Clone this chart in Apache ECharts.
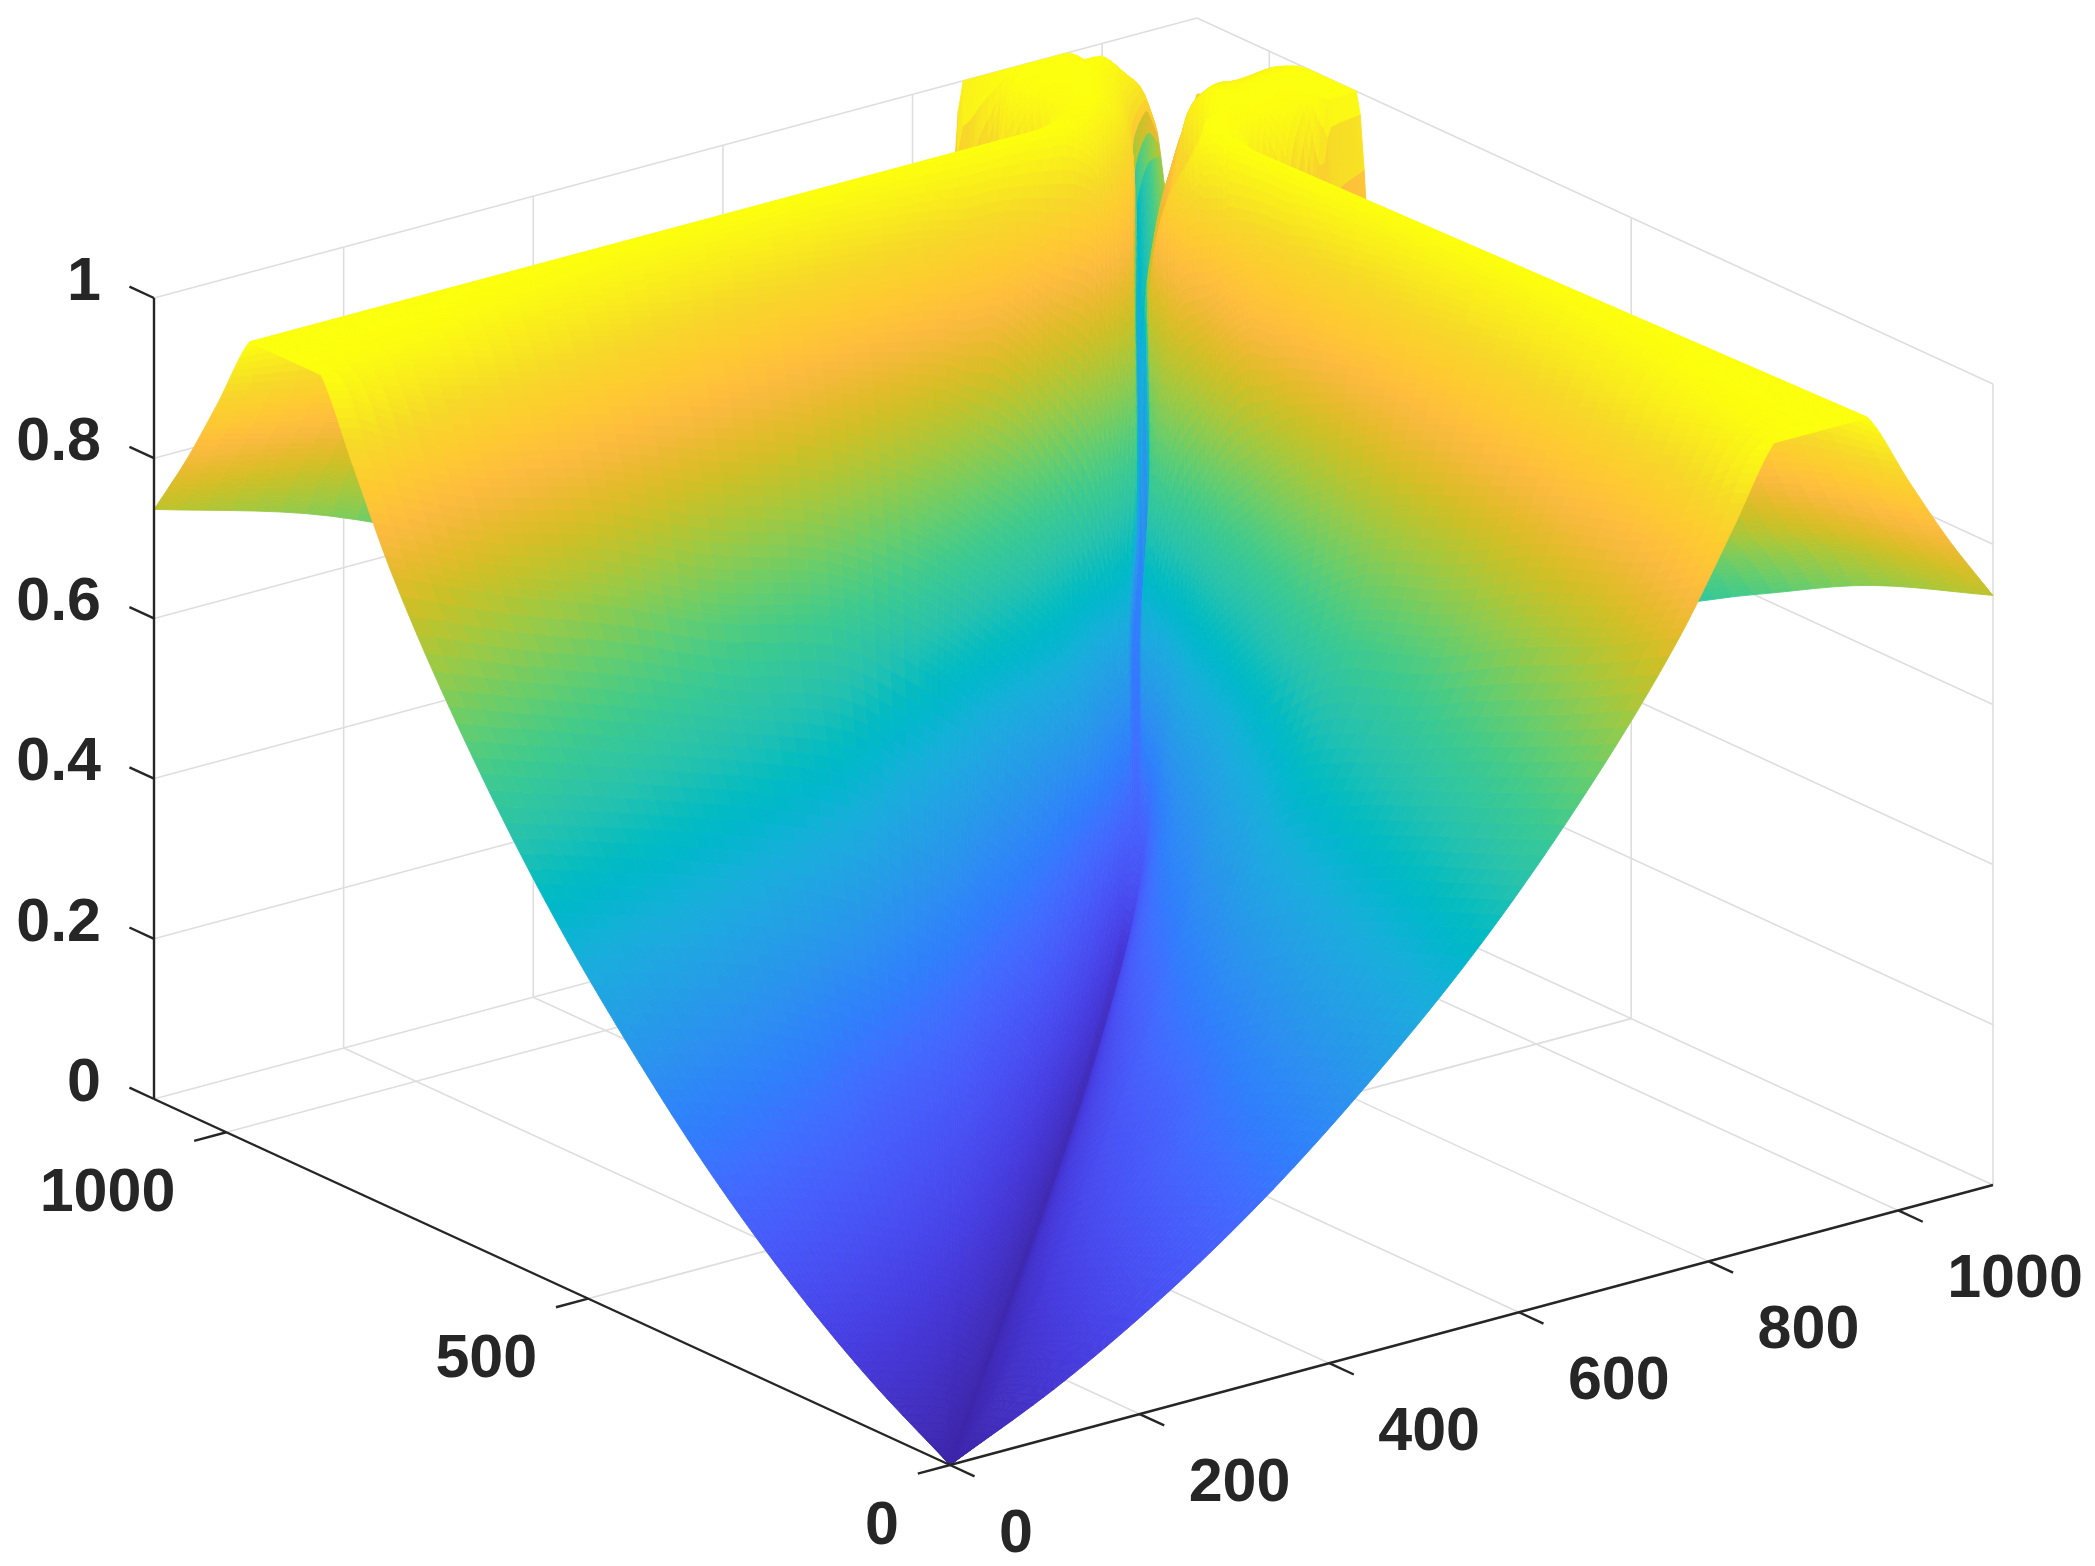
<!DOCTYPE html>
<html>
<head>
<meta charset="utf-8">
<style>html,body{margin:0;padding:0;background:#fff}#c{width:2095px;height:1566px;filter:blur(0.7px)}</style>
<script src="https://cdn.jsdelivr.net/npm/echarts@6/dist/echarts.min.js"></script>
</head>
<body>
<div id="c"></div>
<script>
// ---------- axis ticks ----------
const xTicks = [0, 200, 400, 600, 800, 1000];
const yTicks = [0, 500, 1000];
const zTicks = [0, 0.2, 0.4, 0.6, 0.8, 1];
const zTickLabels = ['0', '0.2', '0.4', '0.6', '0.8', '1'];
const axisLimit = 1100;

// ---------- surface values ----------
// Row position: the larger of the two horizontal coordinates.
const rowNodes = [0, 110, 220, 330, 440, 550, 660, 770, 825, 869, 902, 935, 968, 1012, 1056, 1078, 1100];
// Where each row meets the valley, for the side y > x and for the side x > y.
const seamXLeft  = [0, 110, 220, 330, 440, 550, 660, 770, 825, 860, 885, 918, 941, 975, 1008, 1037, 1067];
const seamYLeft  = rowNodes;
const seamXRight = [0, 110, 220, 330, 440, 550, 660, 770, 825, 860, 885, 918, 941, 975, 1008, 1067, 1100];
const seamYRight = [0, 110, 220, 330, 440, 550, 660, 770, 825, 869, 902, 935, 968, 1012, 1056, 1100, 1100];
// Colour seen along the bottom of the valley, row by row.
const seamColour = [0, .002, .005, .008, .012, .018, .03, .06, .17, .22, .25, .28, .34, .40, .47, .58, .70];
const seamColourRight = [0, .002, .005, .008, .012, .018, .03, .06, .17, .22, .25, .28, .34, .40, .47, .70, .9];
// Column position: share of the way from the outer edge to the valley.
const colNodes = [0, .15, .3, .45, .6, .72, .77, .8, .82, .86, .9, .94, .97, .99, 1];

const zShared = [
  [0, 0, 0, 0, 0, 0, 0, 0, 0, 0, 0, 0, 0, 0, 0],
  [.06, .055, .05, .045, .038, .03, .027, .025, .023, .02, .016, .012, .008, .004, .002],
  [.135, .125, .115, .10, .085, .07, .063, .058, .054, .046, .038, .028, .018, .01, .005],
  [.226, .21, .19, .17, .145, .12, .108, .10, .094, .08, .065, .048, .03, .016, .008],
  [.335, .31, .285, .25, .20, .17, .155, .145, .135, .115, .095, .07, .045, .024, .012],
  [.46, .43, .40, .36, .31, .25, .225, .205, .19, .165, .135, .10, .065, .035, .018],
  [.61, .57, .53, .49, .44, .36, .33, .30, .28, .25, .21, .155, .10, .055, .03],
  [.79, .73, .68, .62, .58, .50, .46, .43, .41, .37, .32, .24, .16, .09, .06],
  [.905, .84, .80, .74, .69, .62, .58, .55, .53, .49, .44, .35, .25, .16, .17],
  [1, .93, .89, .85, .80, .74, .71, .68, .66, .62, .55, .45, .34, .27, .26]
];
const zLeftBack = [
  [1, .99, .95, .91, .87, .85, .84, .83, .83, .80, .74, .68, .56, .42, .32],
  [1, 1, .99, .97, .95, .93, .92, .91, .91, .90, .88, .86, .76, .58, .39],
  [1, 1, 1, 1, 1, 1, 1, 1, 1, 1, 1, .98, .90, .78, .46],
  [.905, .86, .80, .74, .68, .64, .63, .63, .64, .75, .98, 1, .97, .90, .56],
  [.815, .77, .70, .63, .58, .55, .55, .56, .60, .97, 1, 1, .98, .92, .67],
  [.775, .73, .65, .58, .53, .50, .50, .50, .70, 1, 1, 1, .97, .93, .73],
  [.736, .68, .60, .52, .48, .47, .50, 1, 1, 1, 1, .96, .93, .88, .79]
];
const zRightBack = [
  [1, .99, .95, .91, .87, .85, .84, .83, .83, .80, .74, .68, .56, .42, .32],
  [1, 1, .99, .97, .95, .93, .92, .91, .91, .90, .88, .86, .76, .58, .39],
  [1, 1, 1, 1, 1, 1, 1, 1, 1, 1, 1, .94, .87, .76, .46],
  [.905, .86, .80, .74, .68, .64, .64, .65, .68, .98, 1, .92, .85, .73, .56],
  [.815, .77, .70, .63, .58, .55, .56, .60, .97, 1, 1, .96, .82, .74, .67],
  [.775, .73, .65, .58, .53, .50, .55, 1, 1, 1, .98, .95, .90, .83, .79],
  [.736, .68, .60, .52, .48, .47, .60, 1, 1, 1, .985, .95, .925, .91, .905]
];

// ---------- colour map (parula) ----------
const parula = [
[.2422,.1504,.6603],[.2504,.1650,.7076],[.2578,.1818,.7511],[.2647,.1978,.7952],[.2706,.2147,.8364],[.2751,.2342,.8710],[.2783,.2559,.8991],[.2803,.2782,.9221],
[.2813,.3006,.9414],[.2810,.3228,.9579],[.2795,.3447,.9717],[.2760,.3667,.9829],[.2699,.3892,.9906],[.2602,.4123,.9952],[.2440,.4358,.9988],[.2206,.4603,.9973],
[.1963,.4847,.9892],[.1834,.5074,.9798],[.1786,.5289,.9682],[.1764,.5499,.9520],[.1687,.5703,.9359],[.1540,.5902,.9218],[.1460,.6091,.9079],[.1380,.6276,.8973],
[.1248,.6459,.8883],[.1113,.6635,.8763],[.0952,.6798,.8598],[.0689,.6948,.8394],[.0297,.7082,.8163],[.0036,.7203,.7917],[.0067,.7312,.7660],[.0433,.7411,.7394],
[.0964,.7500,.7120],[.1408,.7584,.6842],[.1717,.7670,.6554],[.1938,.7758,.6251],[.2161,.7843,.5923],[.2470,.7918,.5567],[.2906,.7973,.5188],[.3406,.8008,.4789],
[.3909,.8029,.4354],[.4456,.8024,.3909],[.5044,.7993,.3480],[.5616,.7942,.3045],[.6174,.7876,.2612],[.6720,.7793,.2227],[.7242,.7698,.1910],[.7738,.7598,.1646],
[.8203,.7498,.1535],[.8634,.7406,.1596],[.9035,.7330,.1774],[.9393,.7288,.2100],[.9728,.7298,.2394],[.9956,.7434,.2371],[.9970,.7659,.2199],[.9952,.7861,.1990],
[.9892,.8068,.1818],[.9786,.8266,.1717],[.9676,.8463,.1600],[.9700,.8800,.1400],[.9750,.9100,.1200],[.9800,.9400,.1000],[.9850,.9700,.0800],[.9900,1,.0500]
];

function colorOf(z) {
  const t = Math.max(0, Math.min(1, z)) * (parula.length - 1);
  const i = Math.min(parula.length - 2, Math.floor(t)), f = t - i;
  const c = [0, 1, 2].map(k => Math.round(255 * (parula[i][k] + (parula[i + 1][k] - parula[i][k]) * f)));
  return 'rgb(' + c.join(',') + ')';
}

// ---------- view: how the three data axes lie on the picture plane ----------
const view = { ox: 950, oy: 1465, xx: 1043, xy: -280, yx: -796, yy: -366, zy: -801 };
function plane(x, y, z) {
  const a = x / axisLimit, b = y / axisLimit;
  return [view.ox + view.xx * a + view.yx * b, view.oy + view.xy * a + view.yy * b + view.zy * z];
}

// Monotone curve through table nodes, only to draw the mesh between them without corners.
// With keepCreases, a node beside a flat stretch keeps part of its slope, so a crease stays crisp.
function smoothCurve(xs, ys, keepCreases) {
  const n = xs.length, h = [], d = [], m = new Array(n).fill(0);
  for (let i = 0; i < n - 1; i++) { h[i] = xs[i + 1] - xs[i]; d[i] = (ys[i + 1] - ys[i]) / h[i]; }
  m[0] = d[0]; m[n - 1] = d[n - 2];
  for (let i = 1; i < n - 1; i++) {
    if (d[i - 1] * d[i] > 0) {
      const w1 = 2 * h[i] + h[i - 1], w2 = h[i] + 2 * h[i - 1];
      m[i] = (w1 + w2) / (w1 / d[i - 1] + w2 / d[i]);
    } else if (keepCreases && (Math.abs(d[i]) < 1e-4 || Math.abs(d[i - 1]) < 1e-4)) {
      m[i] = 0.7 * (Math.abs(d[i]) < 1e-4 ? d[i - 1] : d[i]);
    }
  }
  return function (i, t) {
    const t2 = t * t, t3 = t2 * t;
    return (2 * t3 - 3 * t2 + 1) * ys[i] + (t3 - 2 * t2 + t) * h[i] * m[i] + (-2 * t3 + 3 * t2) * ys[i + 1] + (t3 - t2) * h[i] * m[i + 1];
  };
}

// ---------- mesh cells drawn by the custom series ----------
const SUB_ROW = 10, SUB_COL = 6;
function buildCells(seamX, seamY, table, seamC, swap) {
  const nr = rowNodes.length, nc = colNodes.length;
  const fineCols = [], fineColPos = [];
  for (let c = 0; c < nc - 1; c++) for (let b = 0; b < SUB_COL; b++) { fineCols.push([c, b / SUB_COL]); fineColPos.push(colNodes[c] + (colNodes[c + 1] - colNodes[c]) * b / SUB_COL); }
  fineCols.push([nc - 2, 1]); fineColPos.push(1);
  const fineRows = [];
  for (let r = 0; r < nr - 1; r++) for (let a = 0; a < SUB_ROW; a++) fineRows.push([r, a / SUB_ROW]);
  fineRows.push([nr - 2, 1]);

  const rowCurves = table.map(row => smoothCurve(colNodes, row));
  const zGrid = fineCols.map(([c, f]) => {
    const cross = smoothCurve(rowNodes, rowCurves.map(curve => curve(c, f)), true);
    return fineRows.map(([r, g]) => Math.min(1, cross(r, g)));
  });
  const sxCurve = smoothCurve(rowNodes, seamX), syCurve = smoothCurve(rowNodes, seamY), scCurve = smoothCurve(rowNodes, seamC);
  const us = fineRows.map(([r, g]) => rowNodes[r] + (rowNodes[r + 1] - rowNodes[r]) * g);
  const sxs = fineRows.map(([r, g]) => sxCurve(r, g));
  const sys = fineRows.map(([r, g]) => syCurve(r, g));
  const scs = fineRows.map(([r, g]) => scCurve(r, g));

  const vertex = (i, j) => {
    const r = fineColPos[j], u = us[i];
    const x = swap ? u + (sxs[i] - u) * r : r * sxs[i];
    const y = swap ? r * sys[i] : u + (sys[i] - u) * r;
    return [x, y, zGrid[j][i]];
  };
  const out = [];
  for (let i = 0; i < fineRows.length - 1; i++) {
    for (let j = 0; j < fineCols.length - 1; j++) {
      const p = [vertex(i, j), vertex(i + 1, j), vertex(i + 1, j + 1), vertex(i, j + 1)];
      const m = [0, 1, 2].map(k => (p[0][k] + p[1][k] + p[2][k] + p[3][k]) / 4);
      const depth = -0.6 * m[0] / axisLimit - 0.78 * m[1] / axisLimit + 0.55 * m[2];
      const q = p.map(v => plane(v[0], v[1], v[2]));
      const rMid = (fineColPos[j] + fineColPos[j + 1]) / 2;
      const blend = Math.max(0, Math.min(1, (rMid - 0.9905) / 0.005));
      const shade = m[2] + ((scs[i] + scs[i + 1]) / 2 - m[2]) * blend;
      out.push([q[0][0], q[0][1], q[1][0], q[1][1], q[2][0], q[2][1], q[3][0], q[3][1], shade, depth]);
    }
  }
  return out;
}
const cells = buildCells(seamXLeft, seamYLeft, zShared.concat(zLeftBack), seamColour, false)
  .concat(buildCells(seamXRight, seamYRight, zShared.concat(zRightBack), seamColourRight, true))
  .sort((p, q) => p[9] - q[9]);

// ---------- line and label lists ----------
const gridSegs = [];
const addSeg = (list, a, b) => { const p = plane(...a), q = plane(...b); list.push([p[0], p[1], q[0], q[1]]); };
const L = axisLimit;
zTicks.forEach(z => { addSeg(gridSegs, [0, L, z], [L, L, z]); addSeg(gridSegs, [L, L, z], [L, 0, z]); });
xTicks.forEach(x => { addSeg(gridSegs, [x, 0, 0], [x, L, 0]); addSeg(gridSegs, [x, L, 0], [x, L, 1]); });
yTicks.forEach(y => { addSeg(gridSegs, [0, y, 0], [L, y, 0]); addSeg(gridSegs, [L, y, 0], [L, y, 1]); });

const axisSegs = [];
addSeg(axisSegs, [0, L, 0], [0, L, 1]);
addSeg(axisSegs, [0, 0, 0], [L, 0, 0]);
addSeg(axisSegs, [0, 0, 0], [0, L, 0]);
const TICK = 27 / 875;
const tickDirY = [view.xx, view.xy], tickDirX = [-view.yx, -view.yy];
const pushTick = (x, y, z, d, sign) => {
  const p = plane(x, y, z);
  axisSegs.push([p[0], p[1], p[0] + sign * d[0] * TICK, p[1] + sign * d[1] * TICK]);
};
zTicks.forEach(z => pushTick(0, L, z, tickDirX, -1));
xTicks.forEach(x => pushTick(x, 0, 0, tickDirX, 1));
yTicks.forEach(y => pushTick(0, y, 0, tickDirY, -1));

const labels = [];
zTicks.forEach((z, i) => { const p = plane(0, L, z); labels.push({ value: [p[0] - 53, p[1] - 15], text: zTickLabels[i], align: 'right' }); });
xTicks.forEach(x => { const p = plane(x, 0, 0); labels.push({ value: [p[0] + 49, p[1] + 70], text: String(x), align: 'left' }); });
yTicks.forEach(y => { const p = plane(0, y, 0); labels.push({ value: [p[0] - 51, p[1] + 62], text: String(y), align: 'right' }); });

function segRenderer(color, width) {
  return function (params, api) {
    const a = api.coord([api.value(0), api.value(1)]), b = api.coord([api.value(2), api.value(3)]);
    return { type: 'line', shape: { x1: a[0], y1: a[1], x2: b[0], y2: b[1] }, style: { stroke: color, lineWidth: width, fill: null } };
  };
}

const chart = echarts.init(document.getElementById('c'), null, { renderer: 'canvas', width: 2095, height: 1566 });
chart.setOption({
  animation: false,
  backgroundColor: '#ffffff',
  grid: { left: 0, right: 0, top: 0, bottom: 0 },
  xAxis: { type: 'value', min: 0, max: 2095, show: false },
  yAxis: { type: 'value', min: 0, max: 1566, inverse: true, show: false },
  series: [
    { type: 'custom', coordinateSystem: 'cartesian2d', silent: true, z: 1, clip: false, data: gridSegs, progressive: 0,
      encode: { x: 0, y: 1 }, renderItem: segRenderer('#dedede', 1.6) },
    { type: 'custom', coordinateSystem: 'cartesian2d', silent: true, z: 2, clip: false, data: cells, progressive: 0,
      encode: { x: 0, y: 1 },
      renderItem(params, api) {
        const pts = [];
        for (let k = 0; k < 4; k++) pts.push(api.coord([api.value(2 * k), api.value(2 * k + 1)]));
        const fill = colorOf(api.value(8));
        return { type: 'polygon', shape: { points: pts }, style: { fill, stroke: fill, lineWidth: 0.9 } };
      } },
    { type: 'custom', coordinateSystem: 'cartesian2d', silent: true, z: 3, clip: false, data: axisSegs, progressive: 0,
      encode: { x: 0, y: 1 }, renderItem: segRenderer('#262626', 2.4) },
    { type: 'custom', coordinateSystem: 'cartesian2d', silent: true, z: 4, clip: false, data: labels, progressive: 0,
      encode: { x: 0, y: 1 },
      renderItem(params, api) {
        const p = api.coord([api.value(0), api.value(1)]);
        const item = labels[params.dataIndex];
        return { type: 'text', style: { x: p[0], y: p[1], text: item.text, align: item.align, verticalAlign: 'middle',
          fill: '#262626', font: 'bold 61px "Liberation Sans", Arial, sans-serif' } };
      } }
  ]
});
</script>
</body>
</html>
